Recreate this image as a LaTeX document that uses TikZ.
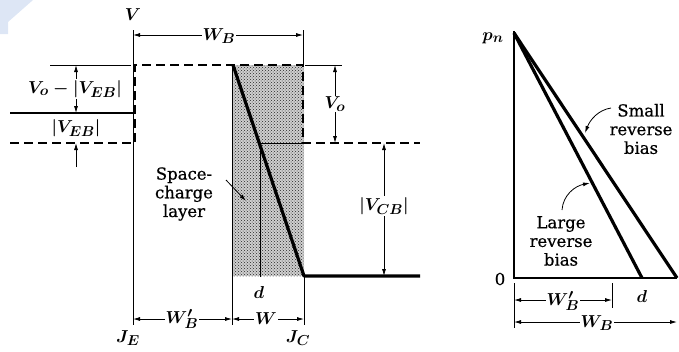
\documentclass[tikz,border=0pt]{standalone}
\usepackage{fontspec}
\setmainfont{DejaVu Serif}
\newfontfamily\txtfont{DejaVu Serif}[FakeBold=0.6]
\usetikzlibrary{arrows.meta,patterns}
\definecolor{wmblue}{RGB}{221,230,245}
\begin{document}
\begin{tikzpicture}[x=1pt,y=-1pt,
  thinl/.style={line width=0.8pt},
  dashl/.style={line width=2.2pt, dash pattern=on 9pt off 5pt},
  thickl/.style={line width=3.2pt},
  tip/.style={-{Latex[length=7pt,width=4pt]}},
  dim/.style={thinl, {Latex[length=7pt,width=4pt]}-{Latex[length=7pt,width=4pt]}},
  lab/.style={font=\fontsize{19}{21}\selectfont\boldmath, inner sep=1pt},
  dlab/.style={lab, fill=white},
  txt/.style={font=\fontsize{16.5}{18.7}\selectfont\txtfont, align=center, inner sep=0pt}]
\useasboundingbox (0,0) rectangle (679,351);
% watermark corner
\fill[wmblue] (0,0) -- (33,0) -- (8,22) -- (8,34) -- (0,34) -- cycle;

% ---------- left diagram ----------
% space-charge layer (stippled)
\fill[gray!38] (232,65) rectangle (304,276);
\fill[pattern=crosshatch dots, pattern color=black!85] (232,65) rectangle (304,276);

% thin reference lines
\draw[thinl] (133,30) -- (133,325);
\draw[thinl] (232,65) -- (232,325);
\draw[thinl] (304,276) -- (304,325);
\draw[thinl] (303,30) -- (303,65);
\draw[thinl] (50,65) -- (131,65);
\draw[thinl] (305,65) -- (342,65);
\draw[thinl] (259,143) -- (303,143);
\draw[thinl] (260,143) -- (260,277);

% potential levels
\draw[line width=2pt] (10,113) -- (135,113);
\draw[dashl] (10,143) -- (135,143) -- (135,65) -- (303,65) -- (303,143) -- (420,143);
\draw[thickl, line join=round] (233,65) -- (304,276) -- (420,276);

% dimensions
\draw[dim] (133,35) -- (303,35);
\node[dlab] (WB) at (219,36) {$W_B$};
\node[lab] (V) at (133,15) {$V$};
\draw[dim] (76,65) -- (76,113);
\node[dlab] (VoVEB) at (75,89) {$V_o - |V_{EB}|$};
\node[lab] (VEB) at (76,128) {$|V_{EB}|$};
\draw[thinl, tip] (76,167) -- (76,143);
\draw[dim] (335,65) -- (335,143);
\node[dlab] (Vo) at (335,104) {$V_o$};
\draw[dim] (384,143) -- (384,276);
\node[dlab] (VCB) at (384,206) {$|V_{CB}|$};
\draw[dim] (133,319) -- (232,319);
\node[dlab] (WBp) at (182,319) {$W'_B$};
\draw[dim] (232,319) -- (304,319);
\node[dlab] (W) at (266,319) {$W$};
\node[lab] (dL) at (259,292) {$d$};
\node[lab, anchor=south] (JE) at (128,347) {$J_E$};
\node[lab, anchor=south] (JC) at (298,347) {$J_C$};

\node[txt] (scl) at (184,194) {Space-\\charge\\layer};
\draw[thinl, tip] (226,180) -- (246,201);

% ---------- right diagram ----------
\draw[line width=1.4pt] (514,31) -- (514,278) -- (677,278);
\draw[thickl] (514,33) -- (642,278);
\draw[thickl] (514,33) -- (677,278);
\node[lab] (pn) at (493,38) {$p_n$};
\node[txt] (zero) at (500,279) {0};
\draw[thinl] (514,283) -- (514,328);
\draw[thinl] (612,283) -- (612,308);
\draw[dim] (514,300) -- (612,300);
\node[dlab] (WBp2) at (563,301) {$W'_B$};
\draw[dim] (514,322) -- (677,322);
\node[dlab] (WB2) at (597,323) {$W_B$};
\node[lab] (dR) at (642,296) {$d$};

\node[txt] (small) at (641,129) {Small\\reverse\\bias};
\draw[thinl, tip] (611,108) .. controls (598,110) and (590,120) .. (585,133);
\node[txt] (large) at (561,241) {Large\\reverse\\bias};
\draw[thinl, tip] (562,210) .. controls (563,195) and (575,186) .. (590,183);
\end{tikzpicture}
\end{document}
